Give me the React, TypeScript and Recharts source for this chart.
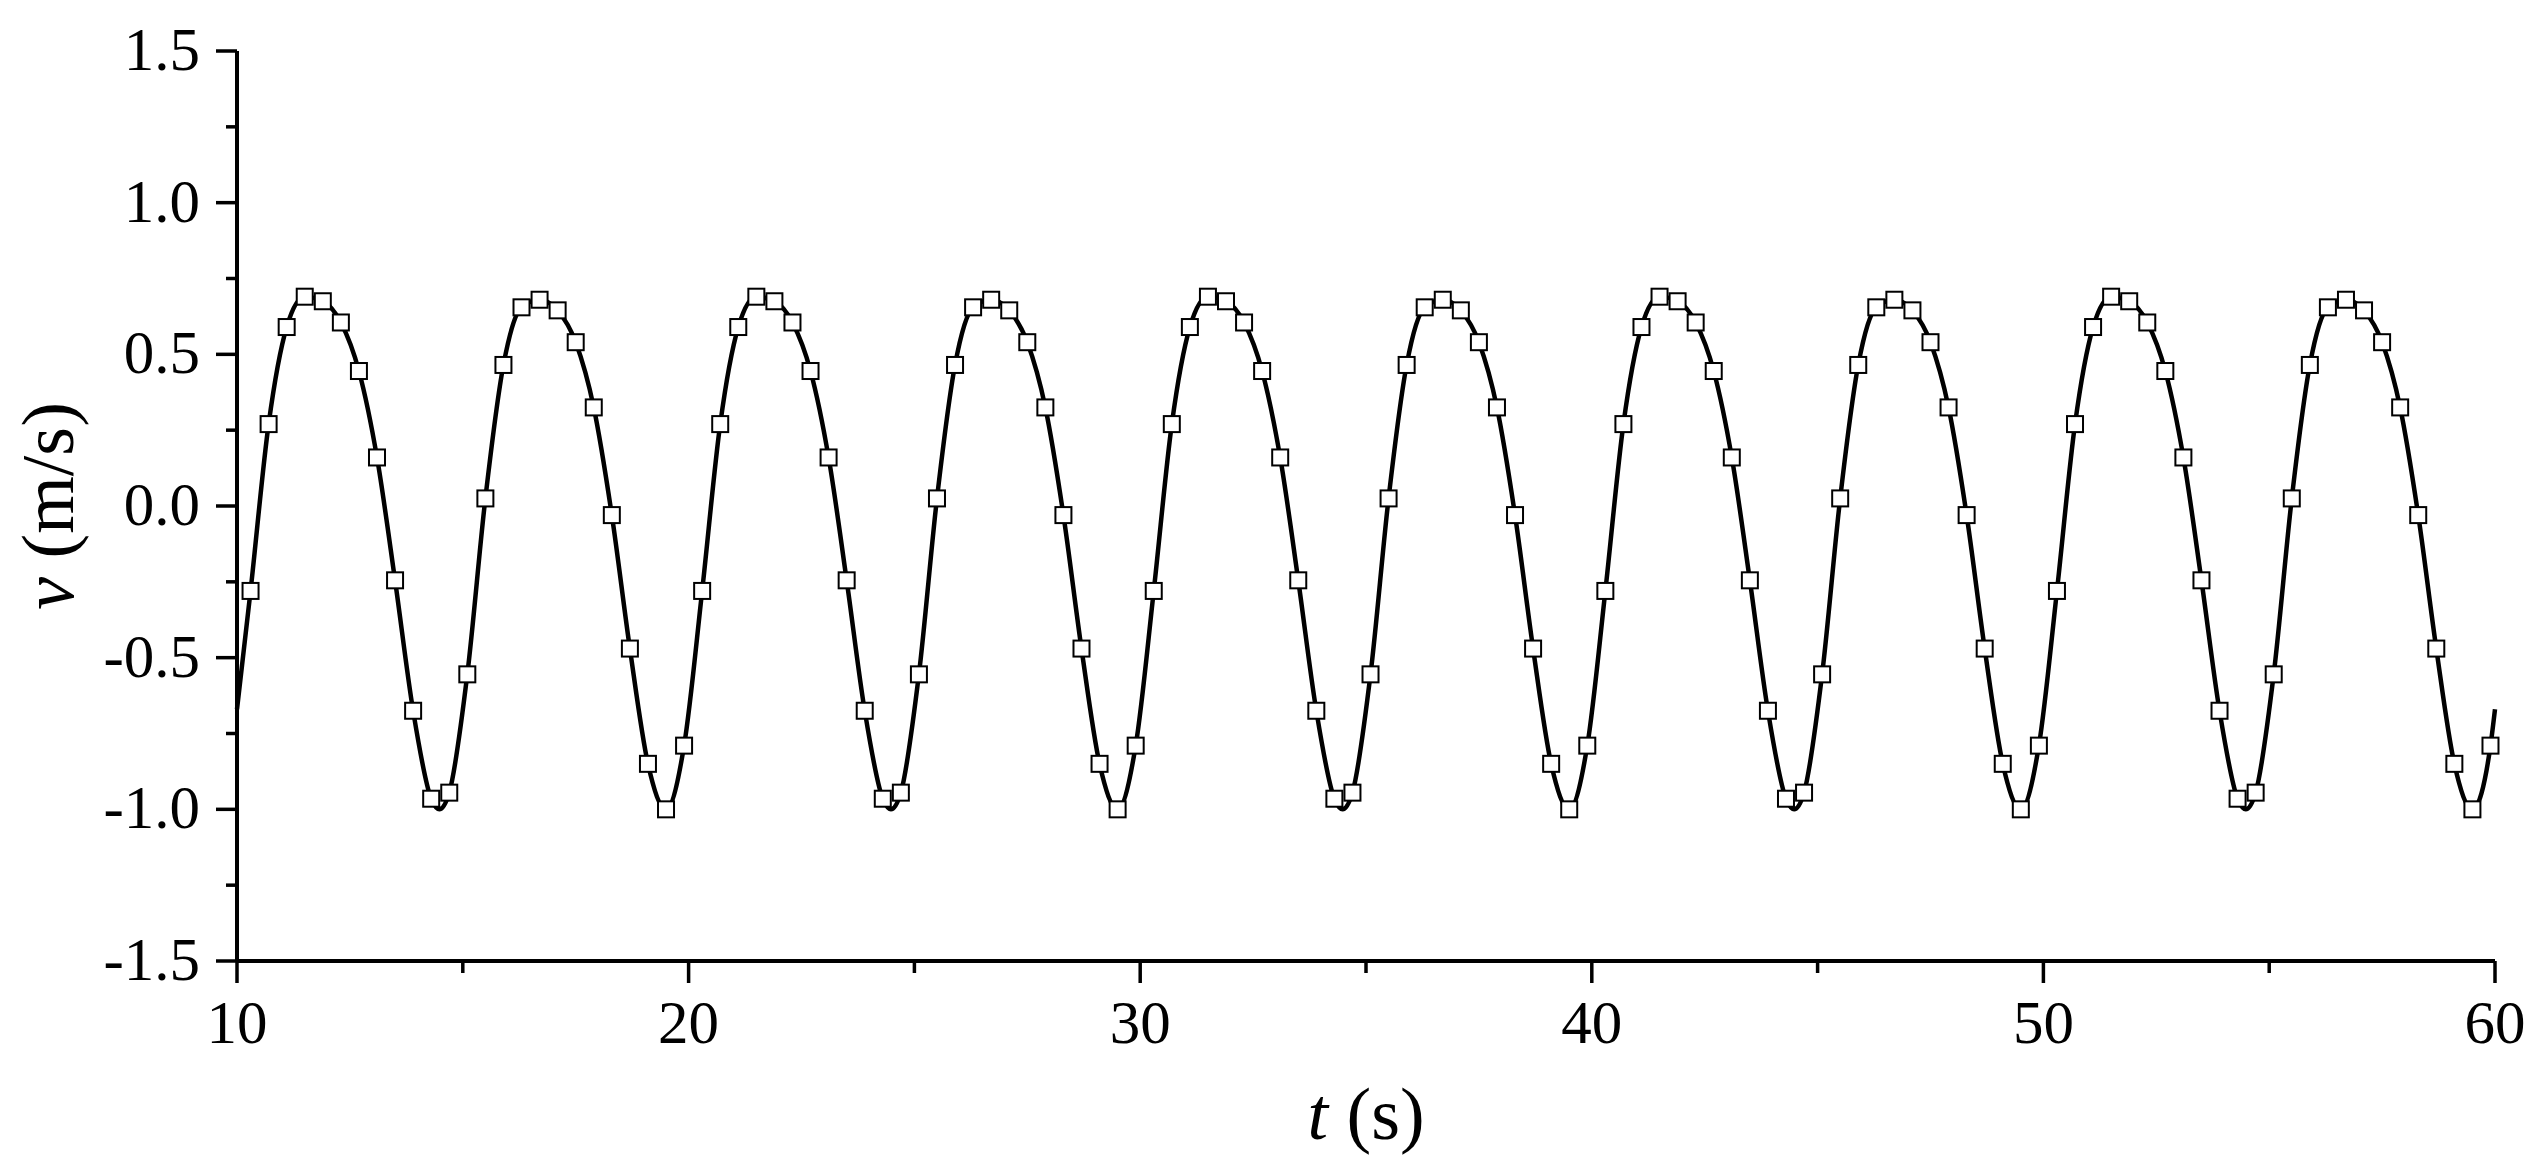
import { ComposedChart, Line, Scatter, XAxis, YAxis } from 'recharts';

// simulated markers, sampled every 0.4 s starting at 10.3 s
const markerStart = 10.3;
const markerStep = 0.4;
const markerValues = [
  -0.28, 0.27, 0.59, 0.69, 0.675, 0.605, 0.445, 0.16, -0.245, -0.675, -0.965, -0.945, -0.555,
  0.025, 0.465, 0.655, 0.68, 0.645, 0.54, 0.325, -0.03, -0.47, -0.85, -1.0, -0.79,
  -0.28, 0.27, 0.59, 0.69, 0.675, 0.605, 0.445, 0.16, -0.245, -0.675, -0.965, -0.945, -0.555,
  0.025, 0.465, 0.655, 0.68, 0.645, 0.54, 0.325, -0.03, -0.47, -0.85, -1.0, -0.79,
  -0.28, 0.27, 0.59, 0.69, 0.675, 0.605, 0.445, 0.16, -0.245, -0.675, -0.965, -0.945, -0.555,
  0.025, 0.465, 0.655, 0.68, 0.645, 0.54, 0.325, -0.03, -0.47, -0.85, -1.0, -0.79,
  -0.28, 0.27, 0.59, 0.69, 0.675, 0.605, 0.445, 0.16, -0.245, -0.675, -0.965, -0.945, -0.555,
  0.025, 0.465, 0.655, 0.68, 0.645, 0.54, 0.325, -0.03, -0.47, -0.85, -1.0, -0.79,
  -0.28, 0.27, 0.59, 0.69, 0.675, 0.605, 0.445, 0.16, -0.245, -0.675, -0.965, -0.945, -0.555,
  0.025, 0.465, 0.655, 0.68, 0.645, 0.54, 0.325, -0.03, -0.47, -0.85, -1.0, -0.79,
];

// extra points on the solid curve (ends and troughs between markers)
const curveExtraTimes = [10, 14.48, 24.48, 34.48, 44.48, 54.48, 60];
const curveExtraValues = [-0.67, -1.0, -1.0, -1.0, -1.0, -1.0, -0.67];

const xTicks = [10, 15, 20, 25, 30, 35, 40, 45, 50, 55, 60];
const xLabels = [10, 20, 30, 40, 50, 60];
const yTicks = [-1.5, -1.25, -1.0, -0.75, -0.5, -0.25, 0, 0.25, 0.5, 0.75, 1.0, 1.25, 1.5];
const yLabels = [-1.5, -1.0, -0.5, 0, 0.5, 1.0, 1.5];

const W = 2526;
const H = 1155;
const PLOT_LEFT = 229;
const PLOT_RIGHT = 2487;
const PLOT_TOP = 43;
const PLOT_BOTTOM = 953;
const FONT = '"Liberation Serif", "Times New Roman", serif';

const markers = markerValues.map((v, i) => ({ t: +(markerStart + i * markerStep).toFixed(2), v }));
const curve = [
  ...markers,
  ...curveExtraTimes.map((t, i) => ({ t, v: curveExtraValues[i] })),
].sort((a, b) => a.t - b.t);

const SquareMarker = (props: any) => {
  const { cx, cy } = props;
  if (cx == null || cy == null) return null;
  return (
    <rect x={cx - 8} y={cy - 8} width={16} height={16} fill="#fff" stroke="#000" strokeWidth={2} />
  );
};

const XTick = (props: any) => {
  const { x, payload } = props;
  const major = xLabels.includes(payload.value);
  return (
    <g>
      <line x1={x} x2={x} y1={PLOT_BOTTOM} y2={PLOT_BOTTOM + (major ? 22 : 12)} stroke="#000" strokeWidth={3.5} />
      {major && (
        <text x={x} y={PLOT_BOTTOM + 82} textAnchor="middle" fontFamily={FONT} fontSize={61} fill="#000">
          {payload.value}
        </text>
      )}
    </g>
  );
};

const YTick = (props: any) => {
  const { y, payload } = props;
  const major = yLabels.includes(payload.value);
  return (
    <g>
      <line x1={PLOT_LEFT - (major ? 21 : 11)} x2={PLOT_LEFT} y1={y} y2={y} stroke="#000" strokeWidth={3.5} />
      {major && (
        <text x={192} y={y + 19} textAnchor="end" fontFamily={FONT} fontSize={61} fill="#000">
          {payload.value.toFixed(1)}
        </text>
      )}
    </g>
  );
};

export default function App() {
  return (
    <div style={{ width: W, height: H, background: '#fff' }}>
      <ComposedChart
        width={W}
        height={H}
        margin={{ top: PLOT_TOP, right: W - PLOT_RIGHT, bottom: 0, left: 0 }}
      >
        <XAxis
          type="number"
          dataKey="t"
          domain={[10, 60]}
          ticks={xTicks}
          interval={0}
          height={H - PLOT_BOTTOM}
          axisLine={{ stroke: '#000', strokeWidth: 4 }}
          tickLine={false}
          tick={<XTick />}
          label={{
            content: () => (
              <text x={(PLOT_LEFT + PLOT_RIGHT) / 2} y={1131} textAnchor="middle" fontFamily={FONT} fontSize={74} fill="#000">
                <tspan fontStyle="italic">t</tspan>
                <tspan> (s)</tspan>
              </text>
            ),
          }}
        />
        <YAxis
          type="number"
          domain={[-1.5, 1.5]}
          ticks={yTicks}
          interval={0}
          width={PLOT_LEFT}
          axisLine={{ stroke: '#000', strokeWidth: 4 }}
          tickLine={false}
          tick={<YTick />}
          label={{
            content: () => (
              <text
                transform={`translate(65, ${(PLOT_TOP + PLOT_BOTTOM) / 2}) rotate(-90)`}
                textAnchor="middle"
                fontFamily={FONT}
                fontSize={74}
                fill="#000"
              >
                <tspan fontStyle="italic">v</tspan>
                <tspan> (m/s)</tspan>
              </text>
            ),
          }}
        />
        <Line
          data={curve}
          dataKey="v"
          type="monotone"
          stroke="#000"
          strokeWidth={4.5}
          dot={false}
          activeDot={false}
          isAnimationActive={false}
        />
        <Scatter data={markers} dataKey="v" shape={<SquareMarker />} isAnimationActive={false} />
      </ComposedChart>
    </div>
  );
}
